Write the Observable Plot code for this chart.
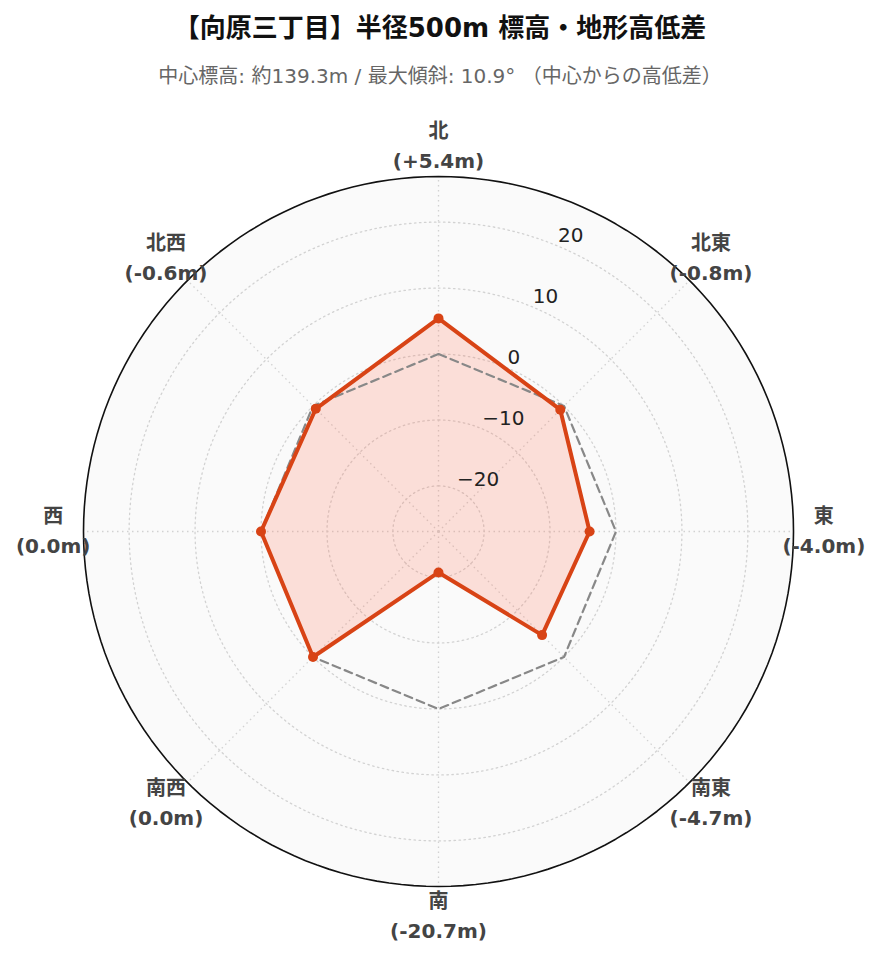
<!DOCTYPE html>
<html>
<head>
<meta charset="utf-8">
<script src="https://cdn.jsdelivr.net/npm/d3@7"></script>
<script src="https://cdn.jsdelivr.net/npm/@observablehq/plot@0.6"></script>
<style>
  html, body { margin: 0; padding: 0; background: #fff; }
  body { width: 880px; font-family: "DejaVu Sans", "Noto Sans CJK JP", sans-serif; }
  #title { height: 56px; line-height: 56px; text-align: center; font-weight: bold; font-size: 26px; color: #111; }
  #subtitle { height: 40px; line-height: 40px; text-align: center; font-size: 20px; color: #666; }
  #chart svg { display: block; font-family: "DejaVu Sans", "Noto Sans CJK JP", sans-serif; }
</style>
</head>
<body>
<div id="title">【向原三丁目】半径500m 標高・地形高低差</div>
<div id="subtitle">中心標高: 約139.3m / 最大傾斜: 10.9° （中心からの高低差）</div>
<div id="chart"></div>
<script>
// ---- data ----
const directions = ["北", "北東", "東", "南東", "南", "南西", "西", "北西"];
const angles = [0, 45, 90, 135, 180, 225, 270, 315];           // degrees clockwise from north
const diffs = [5.4, -0.8, -4.0, -4.7, -20.7, 0.0, 0.0, -0.6]; // elevation difference from centre (m)
const diffLabels = ["(+5.4m)", "(-0.8m)", "(-4.0m)", "(-4.7m)", "(-20.7m)", "(0.0m)", "(0.0m)", "(-0.6m)"];
const referenceLevel = [0, 0, 0, 0, 0, 0, 0, 0];
const radialTicks = [-20, -10, 0, 10, 20];
const radialRange = [-26.91, 26.91];
const tickAngle = 22.5;

// ---- polar helpers ----
const rho = v => v - radialRange[0];
const rMax = rho(radialRange[1]);
const rad = a => a * Math.PI / 180;
const px = (v, a) => rho(v) * Math.sin(rad(a));
const py = (v, a) => rho(v) * Math.cos(rad(a));

const series = directions.map((d, i) => ({dir: d, angle: angles[i], value: diffs[i], label: diffLabels[i], ref: referenceLevel[i]}));

const circleAngles = d3.range(0, 360, 2);
const gridPts = radialTicks.flatMap(t => circleAngles.map(a => ({t, a})));
const outerPts = circleAngles.map(a => ({a}));
const labelR = radialRange[1] + 4.6;

const color = "#d84315";

const chart = Plot.plot({
  width: 880,
  height: 866,
  margin: 0,
  x: {domain: [-rMax, rMax], range: [83, 793], axis: null},
  y: {domain: [-rMax, rMax], range: [790, 80], axis: null},
  marks: [
    // background disk
    Plot.line(outerPts, {x: d => px(radialRange[1], d.a), y: d => py(radialRange[1], d.a), curve: "linear-closed", fill: "#fafafa", stroke: "none"}),
    // grid circles
    Plot.line(gridPts, {x: d => px(d.t, d.a), y: d => py(d.t, d.a), z: "t", curve: "linear-closed", stroke: "#d2d2d2", strokeWidth: 1.3, strokeDasharray: "1.5,3.5"}),
    // spokes
    Plot.link(series, {x1: 0, y1: 0, x2: d => px(radialRange[1], d.angle), y2: d => py(radialRange[1], d.angle), stroke: "#d2d2d2", strokeWidth: 1.3, strokeDasharray: "1.5,3.5"}),
    // outer circle
    Plot.line(outerPts, {x: d => px(radialRange[1], d.a), y: d => py(radialRange[1], d.a), curve: "linear-closed", stroke: "#111", strokeWidth: 1.6}),
    // filled area
    Plot.line(series, {x: d => px(d.value, d.angle), y: d => py(d.value, d.angle), curve: "linear-closed", fill: "rgb(255,110,80)", fillOpacity: 0.2, stroke: "none"}),
    // reference (0 m) line
    Plot.line(series, {x: d => px(d.ref, d.angle), y: d => py(d.ref, d.angle), curve: "linear-closed", stroke: "#888", strokeWidth: 2.2, strokeDasharray: "8,5"}),
    // data line
    Plot.line(series, {x: d => px(d.value, d.angle), y: d => py(d.value, d.angle), curve: "linear-closed", stroke: color, strokeWidth: 4, strokeLinejoin: "round"}),
    Plot.dot(series, {x: d => px(d.value, d.angle), y: d => py(d.value, d.angle), r: 5, fill: color, stroke: "none"}),
    // radial tick labels
    Plot.text(radialTicks, {x: t => px(t, tickAngle), y: t => py(t, tickAngle), text: t => t < 0 ? "\u2212" + Math.abs(t) : String(t), textAnchor: "start", dx: 1, dy: -10, fontSize: 20, fill: "#222"}),
    // direction labels
    Plot.text(series, {x: d => px(labelR, d.angle), y: d => py(labelR, d.angle), text: "dir", dy: -15, fontSize: 20, fontWeight: "bold", fill: "#444"}),
    Plot.text(series, {x: d => px(labelR, d.angle), y: d => py(labelR, d.angle), text: "label", dy: 15, fontSize: 20, fontWeight: "bold", fill: "#444"})
  ]
});
document.getElementById("chart").appendChild(chart);
</script>
</body>
</html>
